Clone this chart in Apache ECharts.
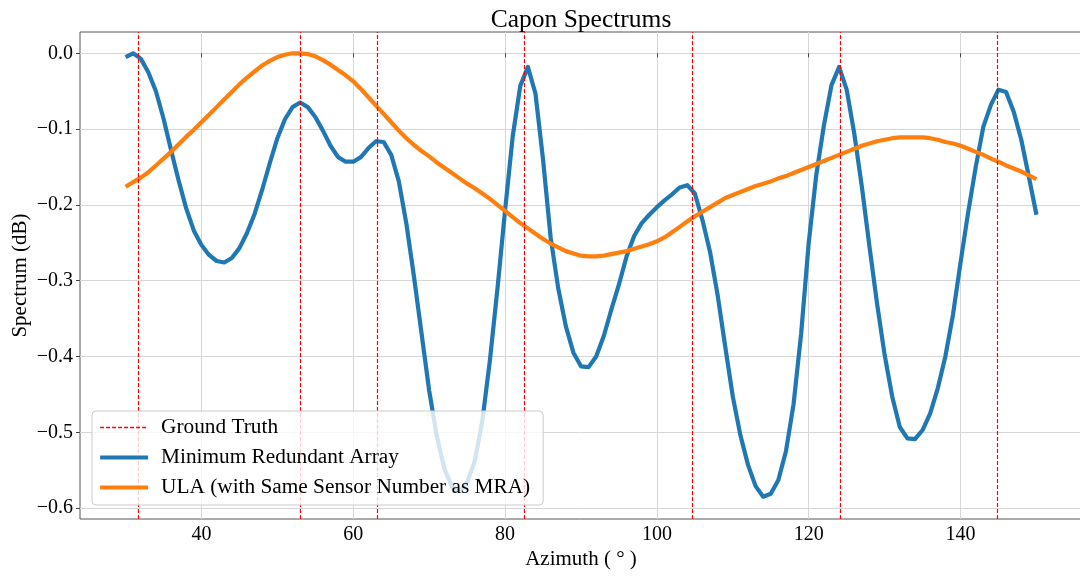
<!DOCTYPE html>
<html><head><meta charset="utf-8">
<script src="https://cdn.jsdelivr.net/npm/echarts@6/dist/echarts.min.js"></script>
<style>html,body{margin:0;padding:0;background:#fff}#c{width:1080px;height:576px}</style>
</head><body><div id="c"></div>
<script>
// Azimuth samples (degrees)
const azimuth = [30,31,32,33,34,35,36,37,38,39,40,41,42,43,44,45,46,47,48,49,50,51,52,53,54,55,56,57,58,59,60,61,62,63,64,65,66,67,68,69,70,71,72,73,74,75,76,77,78,79,80,81,82,83,84,85,86,87,88,89,90,91,92,93,94,95,96,97,98,99,100,101,102,103,104,105,106,107,108,109,110,111,112,113,114,115,116,117,118,119,120,121,122,123,124,125,126,127,128,129,130,131,132,133,134,135,136,137,138,139,140,141,142,143,144,145,146,147,148,149,150];
// Minimum Redundant Array spectrum (dB)
const mra = [-0.005,0.000,-0.007,-0.025,-0.050,-0.086,-0.128,-0.168,-0.205,-0.234,
 -0.253,-0.266,-0.274,-0.276,-0.270,-0.257,-0.237,-0.212,-0.180,-0.145,
 -0.112,-0.087,-0.071,-0.065,-0.071,-0.084,-0.102,-0.122,-0.137,-0.143,
 -0.143,-0.137,-0.125,-0.116,-0.117,-0.134,-0.169,-0.225,-0.295,-0.370,
 -0.445,-0.505,-0.548,-0.572,-0.578,-0.566,-0.538,-0.485,-0.405,-0.310,
 -0.207,-0.110,-0.043,-0.018,-0.053,-0.140,-0.243,-0.310,-0.360,-0.395,
 -0.413,-0.414,-0.400,-0.373,-0.338,-0.305,-0.268,-0.241,-0.224,-0.213,
 -0.203,-0.194,-0.186,-0.177,-0.174,-0.185,-0.220,-0.262,-0.319,-0.387,
 -0.453,-0.504,-0.543,-0.571,-0.585,-0.581,-0.563,-0.525,-0.463,-0.370,
 -0.250,-0.160,-0.095,-0.042,-0.018,-0.048,-0.106,-0.176,-0.255,-0.330,
 -0.398,-0.453,-0.493,-0.508,-0.509,-0.497,-0.475,-0.442,-0.400,-0.345,
 -0.276,-0.210,-0.150,-0.097,-0.068,-0.048,-0.051,-0.077,-0.114,-0.163,
 -0.213];
// ULA spectrum (dB)
const ula = [-0.176,-0.170,-0.164,-0.157,-0.148,-0.139,-0.130,-0.120,-0.110,-0.101,
 -0.091,-0.081,-0.071,-0.061,-0.051,-0.041,-0.032,-0.024,-0.016,-0.010,
 -0.005,-0.002,0.000,0.000,-0.001,-0.004,-0.009,-0.015,-0.022,-0.029,
 -0.037,-0.047,-0.058,-0.069,-0.080,-0.091,-0.102,-0.112,-0.121,-0.129,
 -0.136,-0.144,-0.151,-0.158,-0.165,-0.172,-0.178,-0.185,-0.192,-0.200,
 -0.208,-0.216,-0.224,-0.231,-0.238,-0.245,-0.251,-0.256,-0.261,-0.264,
 -0.267,-0.268,-0.268,-0.267,-0.265,-0.263,-0.261,-0.258,-0.255,-0.252,
 -0.248,-0.243,-0.236,-0.229,-0.222,-0.215,-0.209,-0.203,-0.197,-0.191,
 -0.187,-0.183,-0.179,-0.175,-0.172,-0.169,-0.165,-0.162,-0.158,-0.154,
 -0.150,-0.146,-0.142,-0.138,-0.134,-0.130,-0.126,-0.122,-0.119,-0.116,
 -0.114,-0.112,-0.111,-0.111,-0.111,-0.111,-0.112,-0.114,-0.117,-0.119,
 -0.122,-0.126,-0.130,-0.134,-0.139,-0.143,-0.148,-0.152,-0.156,-0.161,
 -0.166];
// Ground-truth directions (degrees)
const groundTruth = [31.7, 53.0, 63.1, 82.5, 104.6, 124.1, 144.9];
const xTicks = [40, 60, 80, 100, 120, 140];
const yTicks = [-0.6, -0.5, -0.4, -0.3, -0.2, -0.1, 0.0];
const seriesNames = ['Ground Truth', 'Minimum Redundant Array', 'ULA (with Same Sensor Number as MRA)'];

const FONT = 'Liberation Serif';
const chart = echarts.init(document.getElementById('c'), null, {renderer: 'canvas'});
const fmtY = v => { const r = Math.round(v * 10) / 10; return (r < 0 ? '\u2212' : '') + Math.abs(r).toFixed(1); };

const option = {
  animation: false,
  backgroundColor: '#ffffff',
  title: {
    text: 'Capon Spectrums', left: 576, top: 2, textAlign: 'center',
    textStyle: {fontFamily: FONT, fontSize: 25.5, fontWeight: 'normal', color: '#000'}
  },
  grid: {left: 80, right: -2, top: 32, bottom: 57, outerBoundsMode: 'none', containLabel: false,
         show: true, borderColor: '#555', borderWidth: 1, backgroundColor: 'transparent'},
  legend: {
    left: 92, top: 411, orient: 'vertical', itemWidth: 48, itemHeight: 14, itemGap: 9,
    padding: [6, 13, 7, 6], backgroundColor: 'rgba(255,255,255,0.8)', borderColor: '#cccccc',
    borderWidth: 1, borderRadius: 4,
    itemStyle: {opacity: 0},
    lineStyle: {width: 'inherit'},
    textStyle: {fontFamily: FONT, fontSize: 21.3, color: '#000', padding: [0, 0, 0, 8]},
    data: seriesNames
  },
  xAxis: {
    type: 'value', min: 24, max: 156,
    name: 'Azimuth ( \u00b0 )', nameLocation: 'middle', nameGap: 30, nameMoveOverlap: false,
    nameTextStyle: {fontFamily: FONT, fontSize: 21, color: '#000'},
    axisLine: {show: false},
    axisTick: {show: true, length: 4, customValues: xTicks, lineStyle: {color: '#444'}},
    axisLabel: {customValues: xTicks, fontFamily: FONT, fontSize: 20, color: '#000', margin: 6},
    splitLine: {show: true, lineStyle: {color: '#d6d6d6', width: 1}}
  },
  yAxis: {
    type: 'value', min: -0.6144, max: 0.0281,
    name: 'Spectrum (dB)', nameLocation: 'middle', nameGap: 49, nameRotate: 90, nameMoveOverlap: false,
    nameTextStyle: {fontFamily: FONT, fontSize: 21, color: '#000'},
    axisLine: {show: false},
    axisTick: {show: true, length: 4, customValues: yTicks, lineStyle: {color: '#444'}},
    axisLabel: {customValues: yTicks, formatter: fmtY, fontFamily: FONT, fontSize: 20, color: '#000', margin: 7},
    splitLine: {show: true, lineStyle: {color: '#d6d6d6', width: 1}}
  },
  series: [
    {
      name: seriesNames[0], type: 'line', data: [], symbol: 'none', z: 3,
      itemStyle: {color: '#ff0000'},
      lineStyle: {color: '#ff0000', width: 1.3, type: [4, 2]},
      markLine: {
        silent: true, symbol: ['none', 'none'], label: {show: false}, z: 3,
        lineStyle: {color: '#ff0000', width: 1.2, type: [4, 2]},
        emphasis: {disabled: true},
        data: groundTruth.map(v => ({xAxis: v}))
      }
    },
    {
      name: seriesNames[1], type: 'line', symbol: 'none', z: 2,
      itemStyle: {color: '#1f77b4'},
      lineStyle: {color: '#1f77b4', width: 4.2, join: 'round'},
      data: azimuth.map((x, i) => [x, mra[i]])
    },
    {
      name: seriesNames[2], type: 'line', symbol: 'none', z: 2,
      itemStyle: {color: '#ff7f0e'},
      lineStyle: {color: '#ff7f0e', width: 4.2, join: 'round'},
      data: azimuth.map((x, i) => [x, ula[i]])
    }
  ]
};
chart.setOption(option);
</script></body></html>
